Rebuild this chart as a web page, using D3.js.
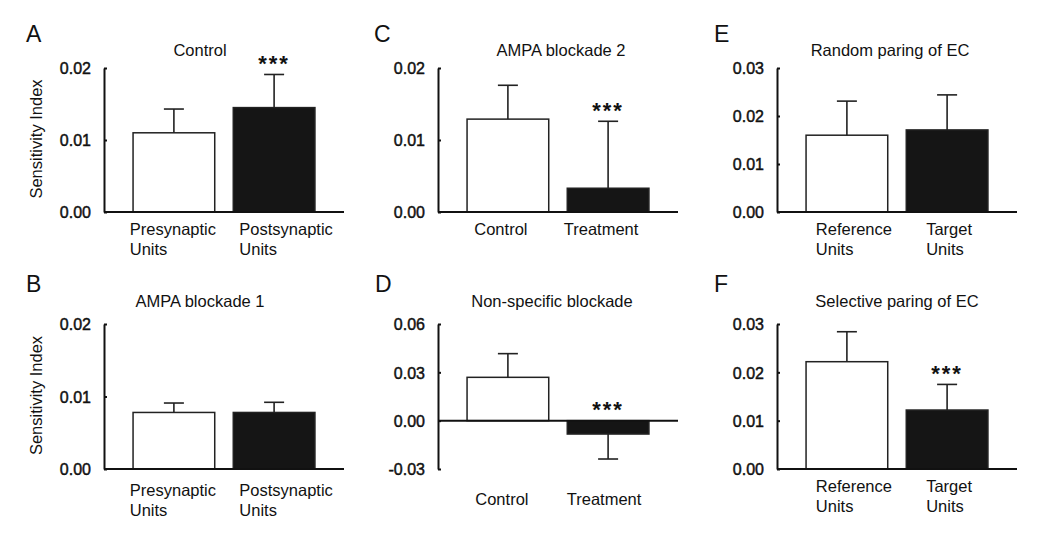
<!DOCTYPE html>
<html><head><meta charset="utf-8">
<script src="https://cdn.jsdelivr.net/npm/d3@7"></script>
<style>
body{margin:0;background:#fff;}
svg text{font-family:"Liberation Sans",Arial,sans-serif;fill:#111;}
</style></head>
<body><svg id="chart" width="1050" height="545"></svg>
<script>
// ---- data ----
const panelLetters = ["A","B","C","D","E","F"];
const panelTitles = ["Control","AMPA blockade 1","AMPA blockade 2","Non-specific blockade","Random paring of EC","Selective paring of EC"];
const categoriesA = [["Presynaptic","Units"],["Postsynaptic","Units"]];
const categoriesB = [["Presynaptic","Units"],["Postsynaptic","Units"]];
const categoriesC = [["Control"],["Treatment"]];
const categoriesD = [["Control"],["Treatment"]];
const categoriesE = [["Reference","Units"],["Target","Units"]];
const categoriesF = [["Reference","Units"],["Target","Units"]];
const meansA = [0.0110, 0.0145];
const semsA  = [0.0033, 0.0046];
const meansB = [0.0078, 0.0078];
const semsB  = [0.0013, 0.0014];
const meansC = [0.0129, 0.0033];
const semsC  = [0.0047, 0.0093];
const meansD = [0.0269, -0.0083];
const semsD  = [0.0147, 0.0155];
const meansE = [0.0160, 0.0171];
const semsE  = [0.0071, 0.0073];
const meansF = [0.0222, 0.0122];
const semsF  = [0.0062, 0.0053];
const significantA = [false, true];
const significantB = [false, false];
const significantC = [false, true];
const significantD = [false, true];
const significantE = [false, false];
const significantF = [false, true];
const yDomainA = [0, 0.02], yTicksA = [0, 0.01, 0.02];
const yDomainB = [0, 0.02], yTicksB = [0, 0.01, 0.02];
const yDomainC = [0, 0.02], yTicksC = [0, 0.01, 0.02];
const yDomainD = [-0.03, 0.06], yTicksD = [-0.03, 0, 0.03, 0.06];
const yDomainE = [0, 0.03], yTicksE = [0, 0.01, 0.02, 0.03];
const yDomainF = [0, 0.03], yTicksF = [0, 0.01, 0.02, 0.03];
const yAxisTitle = "Sensitivity Index";

const panels = [
  {cats:categoriesA, m:meansA, s:semsA, sig:significantA, dom:yDomainA, ticks:yTicksA},
  {cats:categoriesB, m:meansB, s:semsB, sig:significantB, dom:yDomainB, ticks:yTicksB},
  {cats:categoriesC, m:meansC, s:semsC, sig:significantC, dom:yDomainC, ticks:yTicksC},
  {cats:categoriesD, m:meansD, s:semsD, sig:significantD, dom:yDomainD, ticks:yTicksD},
  {cats:categoriesE, m:meansE, s:semsE, sig:significantE, dom:yDomainE, ticks:yTicksE},
  {cats:categoriesF, m:meansF, s:semsF, sig:significantF, dom:yDomainF, ticks:yTicksF}
];

// ---- layout ----
const colX = [104, 438, 777];
const plotW = 240;
const rowTop = [68, 324], rowBot = [212, 469];
const titleCx = [200, 200, 561, 552, 890, 897];
const letterX = [26, 26, 374, 375, 714, 714];
const letterBase = [41.7, 291.7];
const labelDx = [[-1, 12], [-1, 12], [-7, -7], [-6, -4], [7, 2], [7, 2]];
const labelGap = [23, 27, 23, 36, 23, 23];
const fmt2 = d3.format(".2f");
const tickFmt = v => fmt2(v).replace("\u2212", "-");

const svg = d3.select("#chart");

panels.forEach((p, i) => {
  const col = Math.floor(i / 2), row = i % 2;
  const x0 = colX[col], x1 = x0 + plotW;
  const y = d3.scaleLinear().domain(p.dom).range([rowBot[row], rowTop[row]]);
  const x = d3.scaleBand().domain(d3.range(p.m.length)).range([x0, x1])
              .paddingInner(0.185).paddingOuter(0.29);
  const g = svg.append("g");

  // panel letter
  g.append("text").attr("x", letterX[i]).attr("y", letterBase[row])
    .style("font-size", "23px").text(panelLetters[i]);
  // title
  g.append("text").attr("x", titleCx[i]).attr("y", row === 0 ? 56 : 307)
    .attr("text-anchor", "middle").style("font-size", "16.5px").text(panelTitles[i]);

  // y axis
  const yAx = d3.axisLeft(y).tickValues(p.ticks).tickSizeInner(-3).tickSizeOuter(0)
    .tickPadding(13).tickFormat(tickFmt);
  const ya = g.append("g").attr("transform", `translate(${x0},0)`).call(yAx);
  ya.select(".domain").attr("stroke", "#111").attr("stroke-width", 2);
  ya.selectAll(".tick line").attr("stroke", "#111").attr("stroke-width", 2);
  ya.selectAll(".tick text").style("font-size", "16px").style("font-family", "Liberation Sans, Arial, sans-serif")
    .attr("fill", "#111").attr("stroke", "#111").attr("stroke-width", 0.45).attr("dy", "0.36em");

  // bars
  g.selectAll("rect.bar").data(p.m).join("rect")
    .attr("x", (d, j) => x(j)).attr("width", x.bandwidth())
    .attr("y", d => y(Math.max(0, d))).attr("height", d => Math.abs(y(d) - y(0)))
    .attr("fill", (d, j) => j === 0 ? "#fff" : "#151515")
    .attr("stroke", "#222").attr("stroke-width", 1.5);

  // error bars (one-sided)
  p.m.forEach((d, j) => {
    const cx = x(j) + x.bandwidth() / 2;
    const end = d >= 0 ? d + p.s[j] : d - p.s[j];
    g.append("line").attr("x1", cx).attr("x2", cx).attr("y1", y(d)).attr("y2", y(end))
      .attr("stroke", "#222").attr("stroke-width", 1.6);
    g.append("line").attr("x1", cx - 10).attr("x2", cx + 10).attr("y1", y(end)).attr("y2", y(end))
      .attr("stroke", "#222").attr("stroke-width", 1.6);
    if (p.sig[j]) {
      const top = d >= 0 ? y(end) : y(0);
      g.append("text").attr("x", cx).attr("y", top - 16 + 12.8)
        .attr("text-anchor", "middle").style("font-size", "22px").style("font-weight", "bold")
        .style("letter-spacing", "2px").text("***");
    }
    // category label
    const lab = g.append("text").style("font-size", "16.5px");
    const lines = p.cats[j];
    lines.forEach((t, k) => {
      lab.append("tspan").attr("y", rowBot[row] + labelGap[i] + k * 19.5).text(t);
    });
    const w = d3.max(lab.selectAll("tspan").nodes(), n => n.getComputedTextLength());
    lab.selectAll("tspan").attr("x", cx - w / 2 + labelDx[i][j]);
  });

  // x axis at zero
  g.append("line").attr("x1", x0).attr("x2", x1).attr("y1", y(0)).attr("y2", y(0))
    .attr("stroke", "#111").attr("stroke-width", 2);

  // y axis title
  if (col === 0) {
    const cy = (rowTop[row] + rowBot[row]) / 2 - 1;
    g.append("text").attr("transform", `translate(42,${cy}) rotate(-90)`)
      .attr("text-anchor", "middle").style("font-size", "16.5px").text(yAxisTitle);
  }
});
</script></body></html>
